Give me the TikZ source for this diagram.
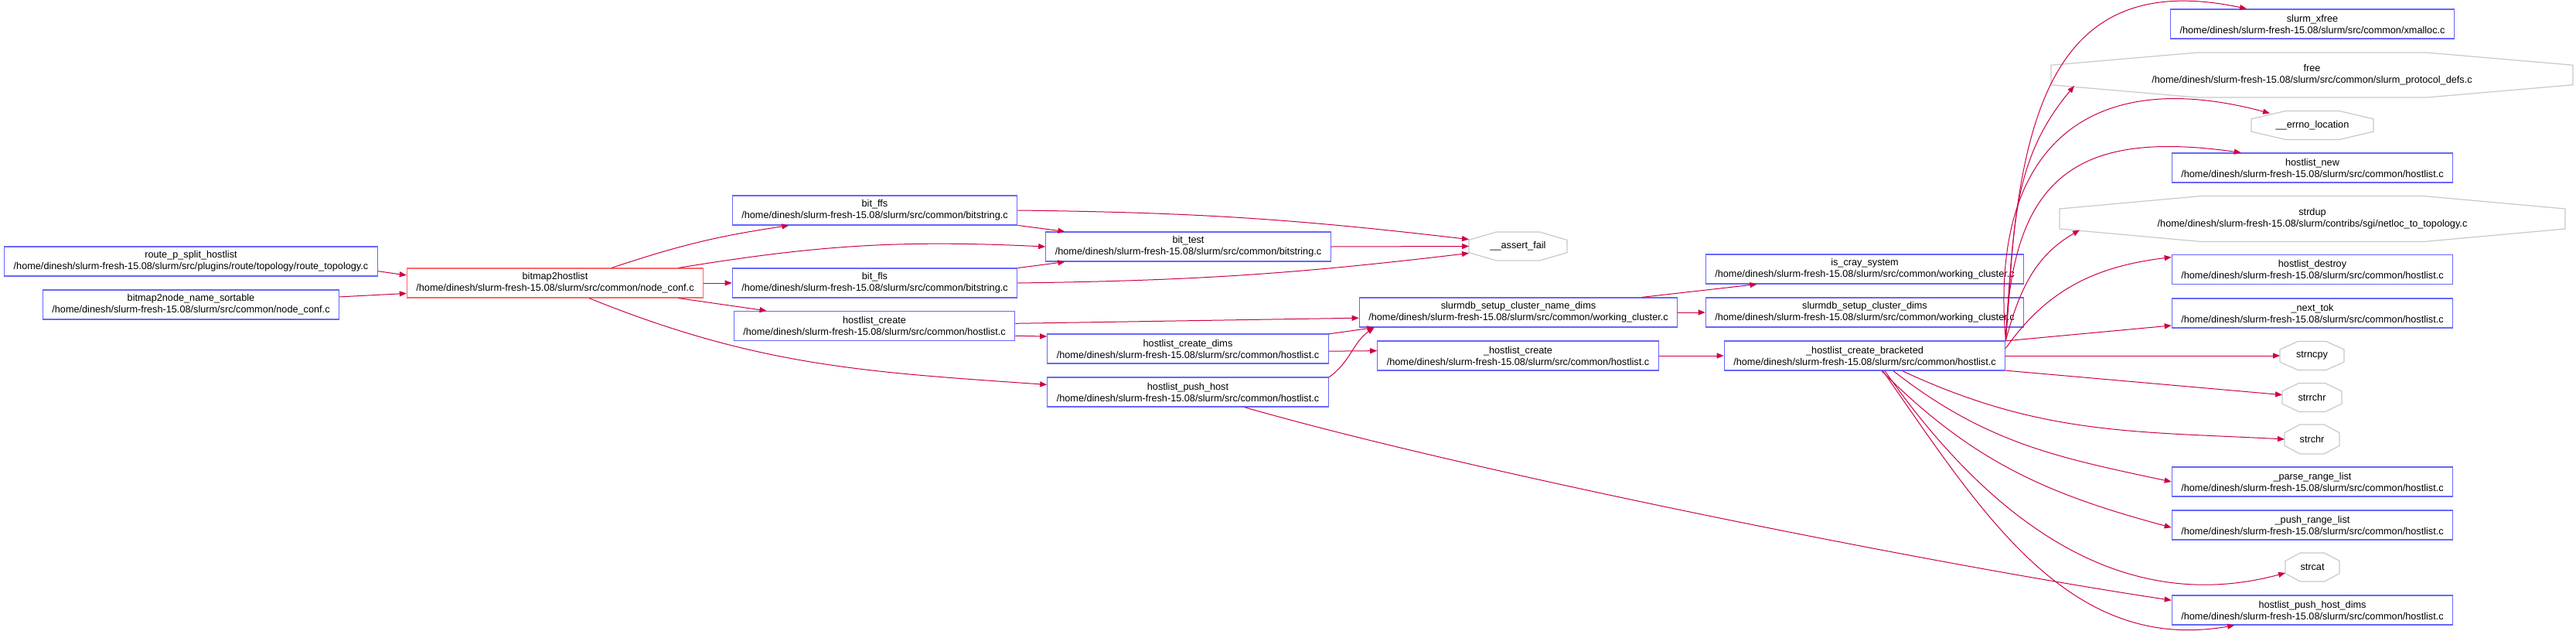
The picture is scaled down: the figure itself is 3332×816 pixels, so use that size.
\documentclass[tikz,border=0pt]{standalone}
\usepackage{fontspec}
\setmainfont{Liberation Sans}
\usetikzlibrary{arrows.meta,calc}

\definecolor{fnblue}{RGB}{102,102,255}
\definecolor{fnred}{RGB}{255,102,102}
\definecolor{libgray}{RGB}{200,200,200}
\definecolor{callred}{RGB}{204,0,68}

\tikzset{
  fnbox/.style={rectangle,draw=fnblue,line width=1.2pt,minimum height=38,
    inner xsep=12,inner ysep=2,align=center,font=\fontsize{12.7}{15}\selectfont},
  rootbox/.style={draw=fnred},
  libfn/.style={rectangle,inner sep=0pt,outer sep=0pt,align=center,
    font=\fontsize{12.7}{15}\selectfont},
  libline/.style={draw=libgray,line width=1.2pt},
  calls/.style={draw=callred,line width=1pt,-{Triangle[length=9pt,width=7pt]}}
}

\begin{document}
\begin{tikzpicture}[x=1pt,y=-1pt]
  \useasboundingbox (0,0) rectangle (3332,816);

  \begin{scope}[every node/.style={fnbox}]
    \node (route)      at (247,338)    {route\_p\_split\_hostlist\\/home/dinesh/slurm-fresh-15.08/slurm/src/plugins/route/topology/route\_topology.c};
    \node (bmsort)     at (247,394)    {bitmap2node\_name\_sortable\\/home/dinesh/slurm-fresh-15.08/slurm/src/common/node\_conf.c};
    \node[rootbox] (bmhost) at (718,366) {bitmap2hostlist\\/home/dinesh/slurm-fresh-15.08/slurm/src/common/node\_conf.c};
    \node (bitffs)     at (1131.5,272) {bit\_ffs\\/home/dinesh/slurm-fresh-15.08/slurm/src/common/bitstring.c};
    \node (bittest)    at (1537,319)   {bit\_test\\/home/dinesh/slurm-fresh-15.08/slurm/src/common/bitstring.c};
    \node (bitfls)     at (1131.5,366) {bit\_fls\\/home/dinesh/slurm-fresh-15.08/slurm/src/common/bitstring.c};
    \node (hlcreate)   at (1131,421.5) {hostlist\_create\\/home/dinesh/slurm-fresh-15.08/slurm/src/common/hostlist.c};
    \node (hlcdims)    at (1536.5,451) {hostlist\_create\_dims\\/home/dinesh/slurm-fresh-15.08/slurm/src/common/hostlist.c};
    \node (hlpush)     at (1536.5,507) {hostlist\_push\_host\\/home/dinesh/slurm-fresh-15.08/slurm/src/common/hostlist.c};
    \node (sdbname)    at (1964,404)   {slurmdb\_setup\_cluster\_name\_dims\\/home/dinesh/slurm-fresh-15.08/slurm/src/common/working\_cluster.c};
    \node (uhlcreate)  at (1963.5,460) {\_hostlist\_create\\/home/dinesh/slurm-fresh-15.08/slurm/src/common/hostlist.c};
    \node (iscray)     at (2412,348)   {is\_cray\_system\\/home/dinesh/slurm-fresh-15.08/slurm/src/common/working\_cluster.c};
    \node (sdbdims)    at (2412,404)   {slurmdb\_setup\_cluster\_dims\\/home/dinesh/slurm-fresh-15.08/slurm/src/common/working\_cluster.c};
    \node (hlbracket)  at (2412,460)   {\_hostlist\_create\_bracketed\\/home/dinesh/slurm-fresh-15.08/slurm/src/common/hostlist.c};
    \node (xfree)      at (2991,31)    {slurm\_xfree\\/home/dinesh/slurm-fresh-15.08/slurm/src/common/xmalloc.c};
    \node (hlnew)      at (2991,217)   {hostlist\_new\\/home/dinesh/slurm-fresh-15.08/slurm/src/common/hostlist.c};
    \node (hldestroy)  at (2991,348.5) {hostlist\_destroy\\/home/dinesh/slurm-fresh-15.08/slurm/src/common/hostlist.c};
    \node (nexttok)    at (2991,405)   {\_next\_tok\\/home/dinesh/slurm-fresh-15.08/slurm/src/common/hostlist.c};
    \node (parserange) at (2991,623)   {\_parse\_range\_list\\/home/dinesh/slurm-fresh-15.08/slurm/src/common/hostlist.c};
    \node (pushrange)  at (2991,679)   {\_push\_range\_list\\/home/dinesh/slurm-fresh-15.08/slurm/src/common/hostlist.c};
    \node (hlpushdims) at (2991,789)   {hostlist\_push\_host\_dims\\/home/dinesh/slurm-fresh-15.08/slurm/src/common/hostlist.c};
  \end{scope}

  % library functions, drawn as octagons
  \begin{scope}[every node/.style={libfn}]
    \node[minimum width=127pt,minimum height=37pt] (assertfail) at (1963.5,318.5) {\_\_assert\_fail};
    \node[minimum width=675pt,minimum height=58pt] (free)   at (2990.5,97)  {free\\/home/dinesh/slurm-fresh-15.08/slurm/src/common/slurm\_protocol\_defs.c};
    \node[minimum width=158pt,minimum height=37pt] (errno)  at (2991,162)   {\_\_errno\_location};
    \node[minimum width=654pt,minimum height=59pt] (strdup) at (2991,283)   {strdup\\/home/dinesh/slurm-fresh-15.08/slurm/contribs/sgi/netloc\_to\_topology.c};
    \node[minimum width=83pt,minimum height=37pt] (strncpy) at (2990.5,460) {strncpy};
    \node[minimum width=77pt,minimum height=37pt] (strrchr) at (2990.5,514) {strrchr};
    \node[minimum width=71pt,minimum height=38pt] (strchr)  at (2990.5,568) {strchr};
    \node[minimum width=70pt,minimum height=37pt] (strcat)  at (2991,733.5) {strcat};
  \end{scope}

  \foreach \lib in {assertfail,free,errno,strdup,strncpy,strrchr,strchr,strcat}
    \draw[libline] ($(\lib.north west)!.28!(\lib.north east)$) -- ($(\lib.north west)!.72!(\lib.north east)$)
      -- ($(\lib.north east)!.28!(\lib.south east)$) -- ($(\lib.north east)!.72!(\lib.south east)$)
      -- ($(\lib.south east)!.28!(\lib.south west)$) -- ($(\lib.south east)!.72!(\lib.south west)$)
      -- ($(\lib.south west)!.28!(\lib.north west)$) -- ($(\lib.south west)!.72!(\lib.north west)$) -- cycle;

  \begin{scope}[every edge/.style={calls}]
    \path (route.-3.3) edge (bmhost.177);
    \path (bmsort.3.7) edge (bmhost.-176.8);
    \path (bmhost.15.8) edge[bend left=5] (bitffs.-170.9);
    \path (bmhost.7.8) edge[bend left=6] (bittest.west);
    \path (bmhost.east) edge (bitfls.west);
    \path (bmhost.-7.3) edge (hlcreate.172.6);
    \path (bmhost.-24.3) edge[out=-22,in=176] (hlpush.177.8);
    \path (bitffs.-6.6) edge (bittest.173.5);
    \path (bitffs.east) edge[bend left=3] (assertfail.172);
    \path (bittest.east) edge (assertfail.west);
    \path (bitfls.6.6) edge (bittest.-173.6);
    \path (bitfls.east) edge[bend right=3] (assertfail.-172);
    \path (hlcreate.1.3) edge (sdbname.-178.8);
    \path (hlcreate.-4.2) edge (hlcdims.175.8);
    \path (hlcdims.6.4) edge (sdbname.-174.1);
    \path (hlcdims.-1.3) edge (uhlcreate.178.6);
    \path (hlpush.6.4) edge[out=35,in=-145] (sdbname.-174.2);
    \draw[calls] (hlpush.-15.3) .. controls (1900,610) and (2500,730) .. (hlpushdims.176.6);
    \path (sdbname.7) edge (iscray.-172.9);
    \path (sdbname.east) edge (sdbdims.west);
    \path (uhlcreate.east) edge (hlbracket.west);
    % fan out of _hostlist_create_bracketed
    \path (hlbracket.north east) edge[out=87,in=168,looseness=1.3] (xfree.167);
    \path (hlbracket.north east) edge[out=85,in=-130] ([shift={(30,-15)}]free.south west);
    \path (hlbracket.north east) edge[out=95,in=165,looseness=1.4] ([shift={(24,3)}]errno.north west);
    \path (hlbracket.north east) edge[out=88,in=172,looseness=1.4] (hlnew.168);
    \path (hlbracket.north east) edge[out=75,in=-150] ([shift={(26,-15)}]strdup.south west);
    \path (hlbracket.3.8) edge[out=55,in=-173] (hldestroy.175.7);
    \path (hlbracket.6.7) edge (nexttok.-175.6);
    \path (hlbracket.east) edge (strncpy.west);
    \path (hlbracket.-6.6) edge (strrchr.175.5);
    \path (hlbracket.-22) edge[out=-25,in=177] (strchr.west);
    \path (hlbracket.-28.5) edge[out=-38,in=168] (parserange.west);
    \path (hlbracket.-42) edge[out=-45,in=165] (pushrange.-179);
    \path (hlbracket.-37) edge[out=-55,in=-165] (strcat.-168);
    \path (hlbracket.-40) edge[out=-55,in=190] (hlpushdims.-169.3);
  \end{scope}
\end{tikzpicture}
\end{document}
